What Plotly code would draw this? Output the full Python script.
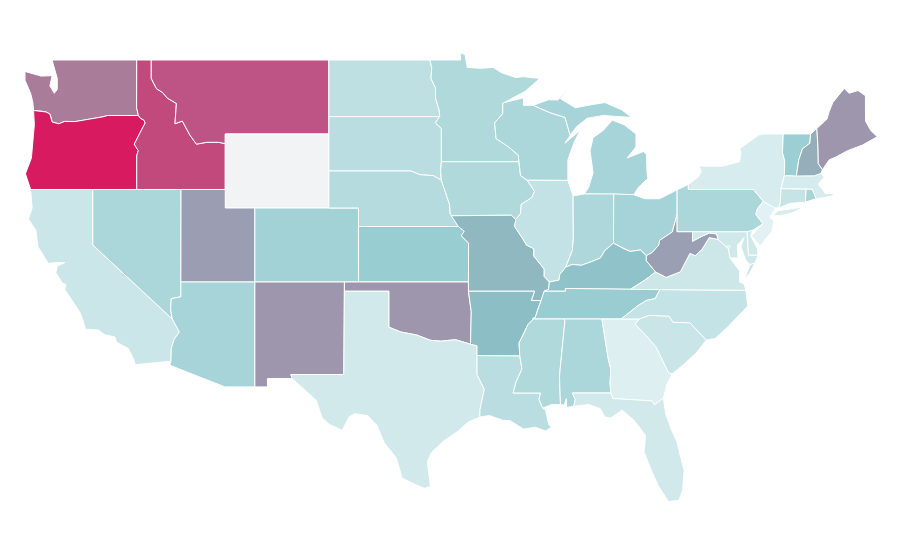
import plotly.graph_objects as go
from plotly.colors import sample_colorscale

# estimated value of each state (0-100) read from its shade
states = ["WA","OR","CA","ID","NV","MT","WY","UT","AZ","CO","NM","ND","SD","NE","KS","OK","TX","MN","IA","MO","AR","LA",
          "WI","IL","MI","IN","OH","KY","TN","MS","AL","GA","FL","SC","NC","VA","WV","MD","DE","DC","PA","NJ","NY","CT","RI","MA","VT","NH","ME"]
values = [67,100,14,84,28.6,81,0,56,31,33,58,20,22,24,38,58,11,26.7,26.7,47,45,22,
          29,17.6,31,28,32,43,37.6,26.7,28.5,5.2,11,15,17,13,55.5,12,12,10,29,3,8,16,30,9,36,50,58]
colorscale = [[0,"#f2f3f5"],[0.001,"#e8f4f6"],[0.38,"#98cdd1"],[0.43,"#8fc3c9"],[0.45,"#8cbec5"],[0.47,"#8fb8c1"],
              [0.50,"#95aeb9"],[0.56,"#9b9eb2"],[0.58,"#9e96ad"],[0.67,"#a97c9a"],[0.81,"#bd5485"],[0.84,"#c2497c"],[1,"#d81b60"]]

# state outlines, longitude / latitude; a state may have several rings
outlines = {
"WA":[[(-124.58,48.38),(-123.5,48.13),(-122.75,48.15),(-122.9,47.6),(-122.6,47.2),(-122.4,47.4),(-122.4,48.0),(-122.75,49),(-117.03,49),(-117.04,46.42),(-116.92,46),(-119,46),(-119.3,45.93),(-119.9,45.83),(-120.6,45.75),(-121.2,45.67),(-121.9,45.68),(-122.3,45.55),(-122.75,45.65),(-122.8,45.85),(-122.9,46.08),(-123.16,46.19),(-123.43,46.23),(-124,46.27),(-124.05,46.7),(-124.2,47.2),(-124.58,47.9)]],
"OR":[[(-124,46.27),(-123.43,46.23),(-123.16,46.19),(-122.9,46.08),(-122.8,45.85),(-122.75,45.65),(-122.3,45.55),(-121.9,45.68),(-121.2,45.67),(-120.6,45.75),(-119.9,45.83),(-119.3,45.93),(-119,46),(-116.92,46),(-116.78,45.85),(-116.55,45.75),(-116.46,45.6),(-116.67,45.3),(-116.85,45),(-117.2,44.45),(-117.05,44.25),(-116.93,44.1),(-117.03,43.83),(-117.03,42),(-124.2,42),(-124.55,42.85),(-124.15,43.7),(-124.05,44.7),(-123.95,45.5)]],
"CA":[[(-124.2,42),(-120,42),(-120,39),(-114.63,35),(-114.15,34.3),(-114.5,33.9),(-114.7,33.4),(-114.72,32.72),(-117.12,32.53),(-117.25,32.85),(-117.6,33.4),(-118.4,33.75),(-118.5,34.03),(-119.2,34.15),(-119.6,34.4),(-120.5,34.45),(-120.65,34.9),(-120.9,35.4),(-121.9,36.6),(-121.8,36.85),(-122.05,36.95),(-122.5,37.5),(-122.4,37.85),(-121.9,38.05),(-122.45,38.05),(-123,38),(-123.7,38.9),(-123.85,39.8),(-124.35,40.4),(-124.1,41)]],
"ID":[[(-117.03,49),(-116.05,49),(-116.05,48),(-115.7,47.45),(-115.3,47.25),(-114.95,46.93),(-114.35,46.65),(-114.45,45.55),(-113.95,45.7),(-113.45,44.95),(-113,44.45),(-112.3,44.55),(-111.5,44.55),(-111.05,44.48),(-111.05,42),(-117.03,42),(-117.03,43.83),(-116.93,44.1),(-117.05,44.25),(-117.2,44.45),(-116.85,45),(-116.67,45.3),(-116.46,45.6),(-116.55,45.75),(-116.78,45.85),(-116.92,46),(-117.04,46.42)]],
"NV":[[(-120,42),(-114.04,42),(-114.05,36.2),(-114.7,36.1),(-114.74,35.5),(-114.63,35),(-120,39)]],
"MT":[[(-116.05,49),(-104.05,49),(-104.05,45),(-111.05,45),(-111.05,44.48),(-111.5,44.55),(-112.3,44.55),(-113,44.45),(-113.45,44.95),(-113.95,45.7),(-114.45,45.55),(-114.35,46.65),(-114.95,46.93),(-115.3,47.25),(-115.7,47.45),(-116.05,48)]],
"WY":[[(-111.05,45),(-104.05,45),(-104.05,41),(-111.05,41)]],
"UT":[[(-114.04,42),(-111.05,42),(-111.05,41),(-109.05,41),(-109.05,37),(-114.05,37)]],
"AZ":[[(-114.05,37),(-109.05,37),(-109.05,31.33),(-111.07,31.33),(-114.8,32.5),(-114.72,32.72),(-114.7,33.4),(-114.5,33.9),(-114.15,34.3),(-114.63,35),(-114.74,35.5),(-114.7,36.1),(-114.05,36.2)]],
"CO":[[(-109.05,41),(-102.05,41),(-102.05,37),(-109.05,37)]],
"NM":[[(-109.05,37),(-103,37),(-103.04,32),(-106.62,32),(-106.53,31.78),(-108.2,31.78),(-108.2,31.33),(-109.05,31.33)]],
"ND":[[(-104.05,49),(-97.23,49),(-97.1,48.6),(-97.15,48),(-96.85,47.5),(-96.83,46.9),(-96.6,46.3),(-96.56,45.94),(-104.05,45.94)]],
"SD":[[(-104.05,45.94),(-96.56,45.94),(-96.85,45.6),(-96.45,45.3),(-96.45,43.5),(-96.5,43),(-96.45,42.5),(-97,42.75),(-97.9,42.8),(-98.5,43),(-104.05,43)]],
"NE":[[(-104.05,43),(-98.5,43),(-97.9,42.8),(-97,42.75),(-96.45,42.5),(-96.1,41.7),(-95.9,41.2),(-95.85,40.7),(-95.31,40),(-102.05,40),(-102.05,41),(-104.05,41)]],
"KS":[[(-102.05,40),(-95.31,40),(-94.9,39.75),(-95.1,39.5),(-94.61,39.1),(-94.62,37),(-102.04,37)]],
"OK":[[(-103,37),(-94.62,37),(-94.62,36.5),(-94.43,35.4),(-94.48,33.64),(-95.5,33.88),(-96.5,33.8),(-97.2,33.85),(-98.1,34.13),(-99.2,34.3),(-100,34.56),(-100,36.5),(-103,36.5)]],
"TX":[[(-103,36.5),(-100,36.5),(-100,34.56),(-99.2,34.3),(-98.1,34.13),(-97.2,33.85),(-96.5,33.8),(-95.5,33.88),(-94.48,33.64),(-94.04,33.55),(-94.04,32),(-93.55,31.2),(-93.72,30.5),(-93.84,30.1),(-93.85,29.7),(-94.7,29.4),(-95.3,28.95),(-96.3,28.4),(-97.1,27.8),(-97.4,27.3),(-97.2,26),(-97.15,25.96),(-97.6,25.85),(-98.2,26.05),(-99.1,26.4),(-99.5,27.5),(-100.3,28.3),(-100.8,29.25),(-101.4,29.77),(-102.3,29.88),(-102.7,29.7),(-103.15,28.98),(-104,29.3),(-104.5,29.65),(-104.9,30.6),(-106,31.4),(-106.53,31.78),(-106.62,32),(-103.04,32)]],
"MN":[[(-97.23,49),(-95.15,49),(-95.15,49.38),(-94.85,49.3),(-94.7,48.6),(-93.8,48.55),(-92.95,48.6),(-92.35,48.3),(-91.4,48.05),(-90.9,48.1),(-89.8,48),(-90.8,47.3),(-92.2,46.7),(-92.3,46.65),(-92.3,46.1),(-92.85,45.6),(-92.75,44.75),(-91.9,44.3),(-91.25,43.85),(-91.22,43.5),(-96.45,43.5),(-96.45,45.3),(-96.85,45.6),(-96.56,45.94),(-96.6,46.3),(-96.83,46.9),(-96.85,47.5),(-97.15,48),(-97.1,48.6)]],
"IA":[[(-96.45,43.5),(-91.22,43.5),(-91.1,42.75),(-90.65,42.5),(-90.15,41.9),(-90.35,41.55),(-91.05,41.2),(-91.1,40.7),(-91.42,40.38),(-91.73,40.61),(-95.77,40.58),(-95.85,40.7),(-95.9,41.2),(-96.1,41.7),(-96.45,42.5),(-96.5,43)]],
"MO":[[(-95.77,40.58),(-91.73,40.61),(-91.42,40.38),(-91.5,40),(-91,39.4),(-90.7,39),(-90.2,38.8),(-90.2,38.4),(-89.5,37.7),(-89.5,37.3),(-89.15,37),(-89.2,36.6),(-89.5,36.5),(-89.7,36),(-90.37,36),(-90.15,36.5),(-94.62,36.5),(-94.62,37),(-94.61,39.1),(-95.1,39.5),(-94.9,39.75),(-95.31,40)]],
"AR":[[(-94.62,36.5),(-90.15,36.5),(-90.37,36),(-89.7,36),(-89.9,35.6),(-90.1,35.1),(-90.6,34.7),(-90.95,34.1),(-91.2,33.7),(-91.15,33),(-94.04,33.02),(-94.04,33.55),(-94.48,33.64),(-94.43,35.4)]],
"LA":[[(-94.04,33.02),(-91.15,33),(-91,32.3),(-91.4,31.6),(-91.6,31),(-89.75,31),(-89.85,30.65),(-89.6,30.18),(-89.4,30.05),(-89.2,29.3),(-89,29.15),(-89.4,28.95),(-90.1,29.15),(-90.9,29.05),(-91.8,29.5),(-92.3,29.53),(-93.2,29.78),(-93.85,29.7),(-93.84,30.1),(-93.72,30.5),(-93.55,31.2),(-94.04,32)]],
"WI":[[(-92.2,46.7),(-90.9,46.95),(-90.9,46.55),(-90.25,46.55),(-89.1,46.15),(-88.1,45.9),(-87.75,44.95),(-87.6,45.1),(-88.1,44.5),(-87.08,45.2),(-87.5,44.5),(-87.9,43.6),(-87.9,42.49),(-90.65,42.5),(-91.1,42.75),(-91.22,43.5),(-91.25,43.85),(-91.9,44.3),(-92.75,44.75),(-92.85,45.6),(-92.3,46.1),(-92.3,46.65)]],
"IL":[[(-90.65,42.5),(-87.9,42.49),(-87.55,41.65),(-87.53,39.35),(-87.6,38.7),(-87.95,38),(-88.05,37.8),(-88.45,37.4),(-88.5,37.1),(-89.15,37),(-89.5,37.3),(-89.5,37.7),(-90.2,38.4),(-90.2,38.8),(-90.7,39),(-91,39.4),(-91.5,40),(-91.42,40.38),(-91.1,40.7),(-91.05,41.2),(-90.35,41.55),(-90.15,41.9)]],
"MI":[[(-86.8,41.76),(-84.8,41.76),(-83.45,41.72),(-83.15,42.1),(-82.5,42.6),(-82.55,42.9),(-82.6,43.9),(-82.8,44.05),(-83.9,43.7),(-83.3,44.3),(-83.3,45),(-84.1,45.5),(-84.9,45.75),(-85.5,45.2),(-86.2,44.8),(-86.4,44.1),(-86.2,42.9),(-86.5,42.1)],
      [(-90.25,46.55),(-89.2,46.85),(-88.57,46.84),(-87.9,47.45),(-88.4,46.9),(-87.4,46.42),(-86.2,46.6),(-85.4,46.7),(-84.25,46.3),(-83.6,45.9),(-84.7,45.95),(-85.5,46),(-86.6,45.85),(-87.3,45.4),(-87.6,45.1),(-87.75,44.95),(-88.1,45.9),(-89.1,46.15)]],
"IN":[[(-87.55,41.65),(-87.2,41.72),(-86.8,41.76),(-84.8,41.76),(-84.82,39.1),(-85.4,38.7),(-85.7,38.3),(-86.3,38.1),(-87,37.9),(-87.6,37.95),(-88.05,37.8),(-87.95,38),(-87.6,38.7),(-87.53,39.35)]],
"OH":[[(-84.8,41.76),(-83.45,41.72),(-82.7,41.5),(-81.7,41.5),(-80.52,41.98),(-80.52,40.64),(-80.85,39.7),(-81.7,39.25),(-81.75,39),(-82.2,38.6),(-82.6,38.42),(-83,38.73),(-83.7,38.65),(-84.25,38.85),(-84.82,39.1)]],
"KY":[[(-89.15,37),(-88.5,37.1),(-88.45,37.4),(-88.05,37.8),(-87.6,37.95),(-87,37.9),(-86.3,38.1),(-85.7,38.3),(-85.4,38.7),(-84.82,39.1),(-84.25,38.85),(-83.7,38.65),(-83,38.73),(-82.6,38.42),(-82.6,38.15),(-81.97,37.54),(-82.7,37.1),(-83.68,36.6),(-88.07,36.65),(-88.07,36.5),(-89.5,36.5),(-89.2,36.6)]],
"TN":[[(-89.5,36.5),(-88.07,36.5),(-88.07,36.65),(-83.68,36.6),(-81.68,36.59),(-82,36.1),(-82.6,36),(-83.2,35.7),(-84.3,35),(-88.2,35),(-90.3,35),(-90.1,35.1),(-89.9,35.6),(-89.7,36)]],
"MS":[[(-90.3,35),(-88.2,35),(-88.1,34.9),(-88.47,31.9),(-88.4,30.37),(-89,30.38),(-89.6,30.18),(-89.85,30.65),(-89.75,31),(-91.6,31),(-91.4,31.6),(-91,32.3),(-91.15,33),(-91.2,33.7),(-90.95,34.1),(-90.6,34.7),(-90.1,35.1)]],
"AL":[[(-88.2,35),(-85.6,35),(-85.18,32.87),(-85,32.3),(-85.05,31.55),(-85,31),(-87.6,31),(-87.4,30.65),(-87.5,30.28),(-88,30.22),(-88,30.7),(-88.15,30.35),(-88.4,30.37),(-88.47,31.9),(-88.1,34.9)]],
"GA":[[(-85.6,35),(-83.1,35),(-83.35,34.7),(-82.6,34.1),(-81.95,33.5),(-81.4,32.6),(-81.1,32.1),(-80.85,32.03),(-81.2,31.5),(-81.45,30.72),(-82.05,30.36),(-82.2,30.57),(-84.86,30.7),(-85,31),(-85.05,31.55),(-85,32.3),(-85.18,32.87)]],
"FL":[[(-87.6,31),(-85,31),(-84.86,30.7),(-82.2,30.57),(-82.05,30.36),(-81.45,30.72),(-81.3,29.9),(-80.9,29),(-80.55,28.4),(-80.2,27.2),(-80.05,26.8),(-80.15,25.75),(-80.4,25.2),(-81.1,25.13),(-81.8,26),(-82.2,26.7),(-82.75,27.8),(-82.65,28.7),(-83.4,29.5),(-84.24,30.08),(-85,29.65),(-85.4,29.7),(-85.7,30.15),(-86.5,30.38),(-87.5,30.28),(-87.4,30.65)]],
"SC":[[(-83.35,34.7),(-83.1,35),(-82.4,35.2),(-81.05,35.15),(-80.8,34.82),(-79.67,34.8),(-78.55,33.86),(-79.2,33.2),(-80,32.6),(-80.85,32.03),(-81.1,32.1),(-81.4,32.6),(-81.95,33.5),(-82.6,34.1)]],
"NC":[[(-84.3,35),(-83.2,35.7),(-82.6,36),(-82,36.1),(-81.68,36.59),(-75.87,36.55),(-75.75,35.7),(-76.5,35.1),(-77.1,34.57),(-77.95,33.95),(-78.55,33.86),(-79.67,34.8),(-80.8,34.82),(-81.05,35.15),(-82.4,35.2),(-83.1,35)]],
"VA":[[(-83.68,36.6),(-81.68,36.59),(-75.87,36.55),(-76,36.9),(-76.3,37),(-76.3,37.6),(-76.95,38.3),(-77.05,38.8),(-77.5,39.1),(-77.75,39.3),(-78.35,39.4),(-78.85,38.75),(-79.3,38.42),(-79.65,38.55),(-80.3,37.55),(-81.25,37.25),(-81.97,37.54),(-82.7,37.1)],
      [(-75.25,38.03),(-75.6,37.95),(-75.95,37.15),(-75.6,37.5)]],
"WV":[[(-80.52,40.64),(-80.52,39.72),(-79.48,39.72),(-79.48,39.2),(-78.9,39.45),(-78.35,39.65),(-77.85,39.6),(-77.75,39.3),(-78.35,39.4),(-78.85,38.75),(-79.3,38.42),(-79.65,38.55),(-80.3,37.55),(-81.25,37.25),(-81.97,37.54),(-82.6,38.15),(-82.6,38.42),(-82.2,38.6),(-81.75,39),(-81.7,39.25),(-80.85,39.7)]],
"MD":[[(-79.48,39.72),(-75.79,39.72),(-75.7,38.46),(-75.05,38.45),(-75.25,38.03),(-75.6,37.95),(-75.9,38.2),(-76.2,38.9),(-76,39.4),(-76.45,39),(-76.4,38.3),(-76.95,38.3),(-77.05,38.8),(-77.5,39.1),(-77.75,39.3),(-77.85,39.6),(-78.35,39.65),(-78.9,39.45),(-79.48,39.2)]],
"DE":[[(-75.79,39.72),(-75.4,39.8),(-75.55,39.5),(-75.1,38.8),(-75.05,38.45),(-75.7,38.46)]],
"DC":[[(-77.12,38.93),(-77.04,39),(-76.91,38.89),(-77.04,38.79)]],
"PA":[[(-80.52,41.98),(-79.76,42.27),(-79.76,42),(-75.35,42),(-74.7,41.36),(-75.1,40.95),(-75.2,40.65),(-74.72,40.15),(-75.4,39.8),(-75.79,39.72),(-80.52,39.72)]],
"NJ":[[(-74.7,41.36),(-73.9,41),(-74.25,40.5),(-73.98,40.3),(-74.1,39.75),(-74.9,38.95),(-75.5,39.5),(-74.72,40.15),(-75.2,40.65),(-75.1,40.95)]],
"NY":[[(-79.76,42.27),(-79.05,42.7),(-78.9,43),(-79.05,43.27),(-77.5,43.25),(-76.3,43.5),(-76.2,44),(-76.3,44.2),(-75,44.95),(-74.7,45),(-73.35,45),(-73.4,44),(-73.25,43.55),(-73.27,42.75),(-73.5,42.05),(-73.55,41.3),(-73.65,41),(-73.9,41),(-74.7,41.36),(-75.35,42),(-79.76,42)],
      [(-74,40.6),(-73.75,40.85),(-72.6,40.98),(-71.9,41.07),(-72.8,40.72),(-73.6,40.58)]],
"CT":[[(-73.5,42.05),(-71.8,42.02),(-71.85,41.32),(-72.9,41.25),(-73.65,41),(-73.55,41.3)]],
"RI":[[(-71.8,42.02),(-71.38,42.02),(-71.12,41.5),(-71.85,41.32)]],
"MA":[[(-73.5,42.05),(-73.27,42.75),(-71.25,42.74),(-70.8,42.87),(-70.6,42.65),(-71,42.3),(-70.65,41.95),(-70.5,41.77),(-70,41.8),(-70.2,42.07),(-69.95,41.67),(-70.65,41.55),(-71.12,41.5),(-71.38,42.02),(-71.8,42.02)]],
"VT":[[(-73.35,45),(-71.5,45),(-71.55,44.5),(-72.05,44.2),(-72.3,43.6),(-72.46,42.73),(-73.27,42.75),(-73.25,43.55),(-73.4,44)]],
"NH":[[(-71.5,45),(-71.08,45.3),(-71,44.3),(-70.98,43.4),(-70.7,43.07),(-70.8,42.87),(-71.25,42.74),(-72.46,42.73),(-72.3,43.6),(-72.05,44.2),(-71.55,44.5)]],
"ME":[[(-71.08,45.3),(-70.4,45.8),(-70.25,46.2),(-70,46.7),(-69.23,47.46),(-68.9,47.2),(-68.3,47.35),(-67.8,47.07),(-67.79,45.7),(-67.45,45.2),(-67,44.85),(-68,44.4),(-69,44.1),(-69.8,43.75),(-70.25,43.6),(-70.7,43.07),(-70.98,43.4),(-71,44.3)]],
}

fig = go.Figure()
for state, value in zip(states, values):
    xs, ys = [], []
    for ring in outlines[state]:
        xs += [p[0] for p in ring] + [ring[0][0], None]
        ys += [p[1] for p in ring] + [ring[0][1], None]
    color = sample_colorscale(colorscale, [value / 100], colortype="rgb")[0]
    fig.add_trace(go.Scatter(x=xs, y=ys, mode="lines", fill="toself", fillcolor=color,
                             line=dict(color="white", width=1), name=state, showlegend=False,
                             hovertemplate=f"{state}: {value}<extra></extra>"))

fig.update_layout(width=900, height=560, margin=dict(l=0, r=0, t=0, b=0),
                  paper_bgcolor="white", plot_bgcolor="white", showlegend=False,
                  xaxis=dict(range=[-125.73, -64.92], visible=False, fixedrange=True),
                  yaxis=dict(range=[21.54, 51.81], visible=False, fixedrange=True))
fig.write_html("out.html")
